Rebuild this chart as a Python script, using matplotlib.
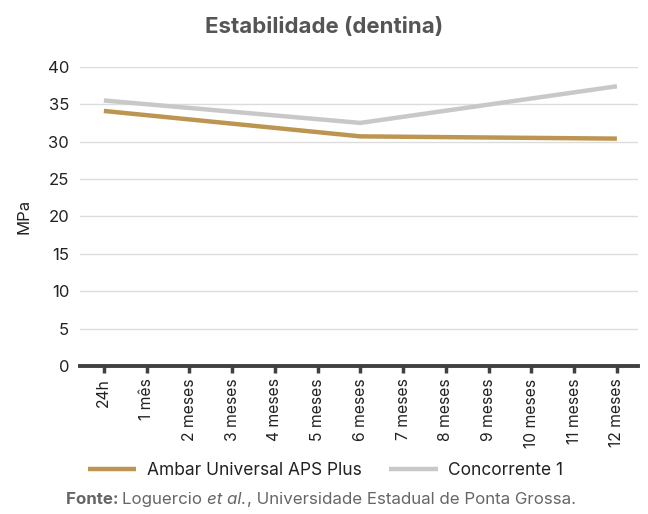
"""Estabilidade (dentina): bond strength over time, two adhesives."""

import matplotlib

matplotlib.use("Agg")

import matplotlib.pyplot as plt

categories = ["24h", "1 mês", "2 meses", "3 meses", "4 meses", "5 meses", "6 meses",
              "7 meses", "8 meses", "9 meses", "10 meses", "11 meses", "12 meses"]
measured_at = ["24h", "6 meses", "12 meses"]
ambar_values = [34.1, 30.7, 30.4]
concorrente_values = [35.5, 32.5, 37.4]
y_ticks = [0, 5, 10, 15, 20, 25, 30, 35, 40]

GOLD = "#bc9550"
LIGHT_GRAY = "#c8c8c8"
TEXT = "#222222"
SOURCE = "#666666"

plt.rcParams["font.family"] = ["Inter", "DejaVu Sans"]

fig = plt.figure(figsize=(6.48, 5.14), dpi=100)
ax = fig.add_axes([0.124, 0.288, 0.861, 0.582])

xs = [categories.index(c) for c in measured_at]
ax.plot(xs, ambar_values, color=GOLD, linewidth=3.2, solid_capstyle="butt",
        label="Ambar Universal APS Plus", zorder=3)
ax.plot(xs, concorrente_values, color=LIGHT_GRAY, linewidth=3.2, solid_capstyle="butt",
        label="Concorrente 1", zorder=3)

ax.set_xlim(-0.55, 12.5)
ax.set_ylim(0, 40)
ax.set_yticks(y_ticks)
ax.set_xticks(range(len(categories)))
ax.set_xticklabels(categories, rotation=90, fontsize=11.3, color=TEXT)
ax.tick_params(axis="y", length=0, labelsize=12, colors=TEXT, pad=8)
ax.tick_params(axis="x", length=5, width=2.5, color="#404040", pad=4)
ax.grid(axis="y", color="#dcdcdc", linewidth=1)
ax.set_axisbelow(True)
for side in ["left", "right", "top"]:
    ax.spines[side].set_visible(False)
ax.spines["bottom"].set_color("#404040")
ax.spines["bottom"].set_linewidth(2.8)
ax.spines["bottom"].set_zorder(4)

ax.set_ylabel("MPa", fontsize=12, color=TEXT, labelpad=12)
fig.text(0.5, 0.947, "Estabilidade (dentina)", ha="center", va="center",
         fontsize=16, fontweight="bold", color="#555555")

fig.legend(loc="center", bbox_to_anchor=(0.502, 0.085), ncol=2, frameon=False,
           fontsize=12.5, handlelength=2.8, columnspacing=1.6, handletextpad=0.6,
           labelcolor=TEXT)

# source line: bold label, regular text with an italic "et al."
parts = [("Fonte: ", "bold", "normal"),
         ("Loguercio ", "normal", "normal"),
         ("et al.", "normal", "italic"),
         (", Universidade Estadual de Ponta Grossa.", "normal", "normal")]
x = 66 / 648
inv = fig.transFigure.inverted()
for text, weight, style in parts:
    t = fig.text(x, 0.02, text, fontsize=12.2, color=SOURCE, fontweight=weight, style=style)
    fig.canvas.draw()
    x = inv.transform((t.get_window_extent().x1, 0))[0]

fig.savefig("out.png", dpi=100)
plt.close(fig)
